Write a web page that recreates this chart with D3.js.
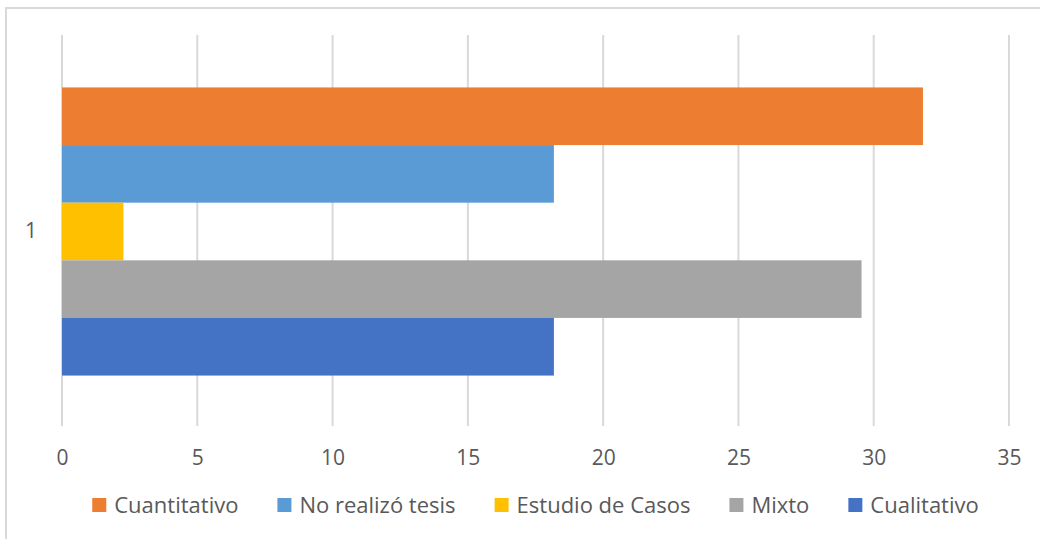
<!DOCTYPE html>
<html>
<head>
<meta charset="utf-8">
<script src="https://cdn.jsdelivr.net/npm/d3@7"></script>
<style>
  body { margin: 0; background: #fff; }
  text { font-family: "Open Sans", "Noto Sans", sans-serif; fill: #595959; }
</style>
</head>
<body>
<div id="chart"></div>
<script>
// data
var categories = ["1"];
var seriesNames = ["Cuantitativo", "No realizó tesis", "Estudio de Casos", "Mixto", "Cualitativo"];
var seriesValues = [31.82, 18.18, 2.27, 29.55, 18.18];
var seriesColors = ["#ed7d31", "#5b9bd5", "#ffc000", "#a5a5a5", "#4472c4"];
var xTicks = [0, 5, 10, 15, 20, 25, 30, 35];

var svgWidth = 1040;
var svgHeight = 539;

var margin = { top: 35, right: 31, bottom: 111, left: 62 };
var width = svgWidth - margin.left - margin.right;
var height = svgHeight - margin.top - margin.bottom;

var svg = d3.select("#chart")
  .append("svg")
  .attr("width", svgWidth)
  .attr("height", svgHeight);

// outer frame
svg.append("rect")
  .attr("x", 6)
  .attr("y", 8)
  .attr("width", svgWidth + 10)
  .attr("height", svgHeight + 10)
  .attr("fill", "none")
  .attr("stroke", "#d9d9d9")
  .attr("stroke-width", 2);

var chartGroup = svg.append("g")
  .attr("transform", `translate(${margin.left}, ${margin.top})`);

// scales
var xScale = d3.scaleLinear()
  .domain([0, 35])
  .range([0, width]);

var yBand = d3.scaleBand()
  .domain(categories)
  .range([0, height])
  .paddingInner(0)
  .paddingOuter(0.182);

var ySeries = d3.scaleBand()
  .domain(seriesNames)
  .range([0, yBand.bandwidth()]);

// gridlines
chartGroup.append("g")
  .selectAll("line")
  .data(xTicks)
  .enter()
  .append("line")
  .attr("x1", d => xScale(d))
  .attr("x2", d => xScale(d))
  .attr("y1", 0)
  .attr("y2", height - 2)
  .attr("stroke", "#d9d9d9")
  .attr("stroke-width", 2);

// bars
categories.forEach(function(cat) {
  chartGroup.append("g")
    .selectAll("rect")
    .data(seriesNames)
    .enter()
    .append("rect")
    .attr("x", xScale(0))
    .attr("y", d => yBand(cat) + ySeries(d))
    .attr("width", (d, i) => xScale(seriesValues[i]) - xScale(0))
    .attr("height", ySeries.bandwidth())
    .attr("fill", (d, i) => seriesColors[i]);
});

// x axis labels
var bottomAxis = d3.axisBottom(xScale)
  .tickValues(xTicks)
  .tickSize(0)
  .tickPadding(22);

var xAxisG = chartGroup.append("g")
  .attr("transform", `translate(0, ${height})`)
  .call(bottomAxis);
xAxisG.select(".domain").remove();
xAxisG.selectAll("text")
  .style("font-size", "21px")
  .style("font-family", null)
  .attr("fill", null);

// y axis label
var leftAxis = d3.axisLeft(yBand).tickSize(0).tickPadding(25);
var yAxisG = chartGroup.append("g").call(leftAxis);
yAxisG.select(".domain").remove();
yAxisG.selectAll("text")
  .style("font-size", "21px")
  .style("font-family", null)
  .attr("fill", null);

// legend
var legendY = 505;
var legend = svg.append("g");
var items = legend.selectAll("g")
  .data(seriesNames)
  .enter()
  .append("g");

items.append("rect")
  .attr("width", 14)
  .attr("height", 14)
  .attr("y", legendY - 7)
  .attr("fill", (d, i) => seriesColors[i]);

items.append("text")
  .attr("x", 22)
  .attr("y", legendY)
  .attr("dy", "0.35em")
  .style("font-size", "22px")
  .text(d => d);

var xPos = 0;
var gap = 39;
items.each(function() {
  var g = d3.select(this);
  g.attr("transform", `translate(${xPos}, 0)`);
  xPos += 22 + g.select("text").node().getComputedTextLength() + gap;
});
var totalWidth = xPos - gap;
legend.attr("transform", `translate(${(93 + 978) / 2 - totalWidth / 2}, 0)`);
</script>
</body>
</html>
